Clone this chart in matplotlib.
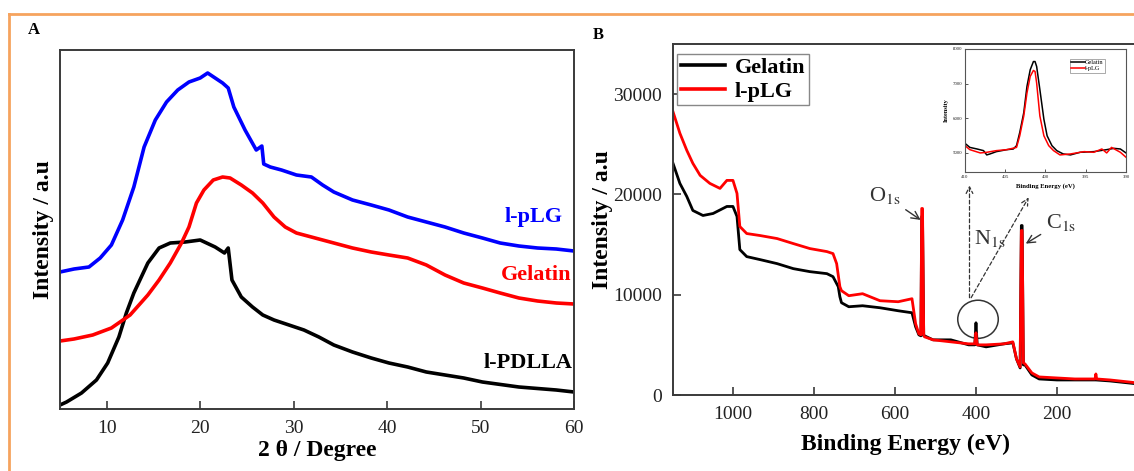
import matplotlib
matplotlib.use('Agg')
import matplotlib.pyplot as plt
from matplotlib.lines import Line2D
from matplotlib.patches import Ellipse

plt.rcParams['font.family'] = ['Liberation Serif', 'DejaVu Serif']
plt.rcParams['mathtext.fontset'] = 'stix'

# ---- Panel A: XRD (2 theta vs intensity, arbitrary units) ----
xrd_pdlla_x = [5, 5.7, 7.3, 8.9, 10.1, 11.3, 12.1, 12.9, 13.7, 14.4, 15.6, 16.8, 18.4, 20, 21.6,
               22.6, 23.0, 23.4, 24.4, 25.6, 26.7, 27.9, 29.5, 31.1, 32.7, 34.3, 36.3, 38.3,
               40.2, 42.2, 44.2, 46.2, 48.2, 50.2, 54.1, 58.1, 60]
xrd_pdlla_y = [3, 6, 15, 28, 45, 71, 95, 115, 131, 145, 160, 165, 166, 168, 161,
               155, 160, 128, 111, 101, 93, 88, 83, 78, 71, 63, 56, 50,
               45, 41, 36, 33, 30, 26, 21, 18, 16]

xrd_gel_x = [5, 6.5, 8.5, 10.5, 12.5, 14.4, 15.6, 16.8, 18, 18.8, 19.6, 20.4, 21.4, 22.4, 23.2,
             24.4, 25.6, 26.7, 27.9, 29.1, 30.3, 32.3, 34.3, 36.3, 38.3, 40.2, 42.2, 44.2,
             46.2, 48.2, 50.2, 52.1, 54.1, 56.1, 58.1, 60]
xrd_gel_y = [67, 69, 73, 80, 93, 113, 128, 145, 165, 181, 205, 218, 228, 231, 230,
             223, 215, 205, 191, 181, 175, 170, 165, 160, 156, 153, 150, 143,
             133, 125, 120, 115, 110, 107, 105, 104]

xrd_plg_x = [5, 6.5, 8.1, 9.3, 10.5, 11.7, 12.9, 14.0, 15.2, 16.4, 17.6, 18.8, 20, 20.8, 22.4,
             23, 23.6, 24.8, 26, 26.6, 26.8, 27.5, 28.7, 30.3, 31.9, 33.1, 34.3, 36.3, 38.3,
             40.2, 42.2, 44.2, 46.2, 48.2, 50.2, 52.1, 54.1, 56.1, 58.1, 60]
xrd_plg_y = [136, 139, 141, 150, 163, 188, 221, 261, 288, 306, 318, 326, 330, 335, 325,
             320, 301, 278, 258, 262, 244, 241, 238, 233, 231, 223, 216, 208, 203,
             198, 191, 186, 181, 175, 170, 165, 162, 160, 159, 157]

# ---- Panel B: XPS survey ----
be_gel = [1148, 1131, 1114, 1099, 1074, 1049, 1015, 1000, 990, 983, 966, 933, 891, 851, 810,
          768, 753, 740, 736, 732, 714, 680, 637, 592, 558, 549, 541, 536, 534, 532, 529,
          527, 506, 462, 418, 403, 400, 397, 375, 331, 309, 300, 291, 288, 286, 283, 279,
          262, 244, 200, 156, 104, 69, 0]
int_gel = [23100, 21100, 19800, 18400, 17900, 18100, 18800, 18800, 17800, 14500, 13800, 13500,
           13100, 12600, 12300, 12100, 11800, 10800, 9800, 9200, 8800, 8900, 8700, 8400, 8200,
           6800, 6000, 5900, 17800, 17800, 5900, 5900, 5500, 5500, 5000, 5000, 7200, 5000,
           4800, 5100, 5200, 3600, 2700, 16900, 16900, 3000, 3000, 2000, 1600, 1500, 1500,
           1500, 1400, 1100]

be_plg = [1148, 1131, 1114, 1099, 1081, 1057, 1032, 1015, 1000, 990, 983, 966, 933, 891, 851,
          810, 768, 753, 744, 736, 732, 714, 680, 637, 592, 558, 549, 541, 536, 534, 532,
          529, 527, 506, 462, 418, 403, 400, 397, 375, 331, 309, 300, 291, 288, 286, 283,
          279, 262, 244, 200, 156, 106, 104, 102, 69, 0]
int_plg = [28250, 26100, 24400, 23100, 21900, 21100, 20600, 21400, 21400, 20100, 16800, 16100,
           15900, 15600, 15100, 14600, 14300, 14100, 13100, 10800, 10400, 9900, 10100, 9400,
           9300, 9600, 7100, 6100, 6000, 18600, 18600, 6000, 5800, 5500, 5300, 5100, 5100,
           6200, 5000, 5000, 5100, 5300, 3600, 2800, 16400, 16400, 3200, 3100, 2200, 1800,
           1700, 1600, 1600, 2100, 1600, 1500, 1200]

# ---- Inset: N1s region ----
n1s_be_gel = [410, 409.4, 408.5, 407.7, 407.3, 406.9, 406.1, 404.8, 404, 403.6, 403.2, 402.7,
              402.3, 401.9, 401.5, 401.3, 401.1, 400.7, 400.2, 399.8, 399.2, 398.6, 397.8,
              396.9, 395.7, 394, 392.4, 391.5, 390.7, 390]
n1s_int_gel = [5276, 5160, 5114, 5067, 4943, 4971, 5038, 5095, 5114, 5210, 5590, 6162,
               6924, 7400, 7638, 7638, 7495, 6829, 5971, 5495, 5210, 5067, 4971,
               4943, 5019, 5038, 5095, 5133, 5114, 5000]
n1s_be_plg = [410, 409.4, 408.1, 407.3, 406.1, 404.8, 403.6, 403.2, 402.7, 402.3, 401.9, 401.5,
              401.3, 401.1, 400.7, 400.2, 399.6, 399, 398.2, 396.9, 395.2, 394, 393, 392.4,
              391.8, 390.7, 390]
n1s_int_plg = [5210, 5095, 5000, 5019, 5067, 5095, 5160, 5495, 6067, 6733, 7210, 7381,
               7352, 7019, 6067, 5495, 5210, 5067, 4943, 4971, 5038, 5019, 5114, 5000,
               5160, 5019, 4876]

fig = plt.figure(figsize=(11.34, 4.71), dpi=100)
W, H = 1134.0, 471.0

spine_c = '#3a3a3a'
txt_c = '#333333'

# ---------------- Panel A ----------------
axA = fig.add_axes([60 / W, 1 - 409 / H, 514 / W, 359 / H])
axA.plot(xrd_pdlla_x, xrd_pdlla_y, color='black', lw=2.6)
axA.plot(xrd_gel_x, xrd_gel_y, color='#ff0000', lw=2.6)
axA.plot(xrd_plg_x, xrd_plg_y, color='#0000ff', lw=2.6)
axA.set_xlim(5, 60)
axA.set_ylim(-1, 358)
axA.set_xticks([10, 20, 30, 40, 50, 60])
axA.set_yticks([])
axA.tick_params(axis='x', direction='in', length=6, width=1.2, labelsize=14, pad=8,
                colors=spine_c, labelcolor='#222222')
for s in axA.spines.values():
    s.set_linewidth(1.4)
    s.set_color(spine_c)
axA.set_xlabel('2 θ / Degree', fontsize=17, fontweight='bold', labelpad=2)
axA.set_ylabel('Intensity / a.u', fontsize=17, fontweight='bold', labelpad=4)
axA.text(58.8, 191, 'l-pLG', color='#0000ff', fontsize=16, fontweight='bold',
         ha='right', va='center')
axA.text(59.7, 133, 'Gelatin', color='#ff0000', fontsize=16, fontweight='bold',
         ha='right', va='center')
axA.text(59.9, 45, 'l-PDLLA', color='black', fontsize=16, fontweight='bold',
         ha='right', va='center')

# ---------------- Panel B ----------------
axB = fig.add_axes([673 / W, 1 - 395 / H, 465 / W, 351 / H])
axB.plot(be_gel, int_gel, color='black', lw=2.0, label='Gelatin')
axB.plot(be_plg, int_plg, color='#ff0000', lw=2.0, label='l-pLG')
axB.set_xlim(1148, 0)
axB.set_ylim(0, 35000)
axB.set_xticks([1000, 800, 600, 400, 200, 0])
axB.set_yticks([0, 10000, 20000, 30000])
axB.tick_params(direction='in', length=6, width=1.2, labelsize=14, pad=8,
                colors=spine_c, labelcolor='#222222')
for s in axB.spines.values():
    s.set_linewidth(1.4)
    s.set_color(spine_c)
axB.set_xlabel('Binding Energy (eV)', fontsize=17, fontweight='bold', labelpad=8)
axB.set_ylabel('Intensity / a.u', fontsize=17, fontweight='bold', labelpad=0)
leg = axB.legend(loc='upper left', bbox_to_anchor=(0.009, 0.972), borderaxespad=0,
                 fancybox=False, edgecolor='#888888', framealpha=1,
                 prop={'weight': 'bold', 'size': 16}, handlelength=2.0,
                 handletextpad=0.45, labelspacing=0.15, borderpad=0.15)
leg.get_frame().set_linewidth(1.0)
for ln in leg.get_lines():
    ln.set_linewidth(2.6)

arrow_kw = dict(arrowstyle='->', color=txt_c, lw=1.0, mutation_scale=14)
axB.annotate('O$_{\\rm 1s}$', xy=(531, 17300), xytext=(625, 19900), fontsize=16,
             color=txt_c, ha='center', va='center', arrowprops=arrow_kw)
axB.annotate('C$_{\\rm 1s}$', xy=(283, 14950), xytext=(190, 17250), fontsize=16,
             color=txt_c, ha='center', va='center', arrowprops=arrow_kw)
axB.text(365, 15650, 'N$_{\\rm 1s}$', fontsize=16, color=txt_c, ha='center', va='center')
axB.add_patch(Ellipse((395, 7550), 100, 3800, fill=False, edgecolor=txt_c, lw=1.1))
dash_kw = dict(arrowstyle='->', color=txt_c, lw=0.9, linestyle=(0, (3, 2)),
               mutation_scale=12, shrinkA=0, shrinkB=0)
axB.annotate('', xy=(416, 20900), xytext=(416, 9700), arrowprops=dash_kw)
axB.annotate('', xy=(270, 19700), xytext=(412, 9700), arrowprops=dash_kw)

# ---------------- Inset ----------------
axI = fig.add_axes([965 / W, 1 - 172 / H, 161 / W, 123 / H])
axI.plot(n1s_be_gel, n1s_int_gel, color='black', lw=1.1, label='Gelatin')
axI.plot(n1s_be_plg, n1s_int_plg, color='#ff0000', lw=1.1, label='l-pLG')
axI.set_xlim(410, 390)
axI.set_ylim(4450, 8000)
axI.set_xticks([410, 405, 400, 395, 390])
axI.set_yticks([5000, 6000, 7000, 8000])
axI.tick_params(direction='in', length=2, width=0.6, labelsize=3.5, pad=2,
                colors=spine_c, labelcolor='#222222')
for s in axI.spines.values():
    s.set_linewidth(0.8)
    s.set_color('#555555')
axI.set_xlabel('Binding Energy (eV)', fontsize=4.8, fontweight='bold', labelpad=3)
axI.set_ylabel('Intensity', fontsize=4.5, fontweight='bold', labelpad=3)
legI = axI.legend(loc='upper right', bbox_to_anchor=(0.87, 0.92), borderaxespad=0,
                  fancybox=False, edgecolor='#888888', framealpha=1,
                  prop={'size': 4.5}, handlelength=2.2, handletextpad=0.1,
                  labelspacing=0.1, borderpad=0.2)
legI.get_frame().set_linewidth(0.5)

# panel letters
fig.text(34 / W, 1 - 30 / H, 'A', fontsize=12, fontweight='bold', ha='center', va='center')
fig.text(598 / W, 1 - 35 / H, 'B', fontsize=12, fontweight='bold', ha='center', va='center')

# orange frame
orange = '#f6a35e'
fig.add_artist(Line2D([9 / W, 1], [1 - 14 / H, 1 - 14 / H], transform=fig.transFigure,
                      color=orange, lw=2))
fig.add_artist(Line2D([9 / W, 9 / W], [0, 1 - 14 / H], transform=fig.transFigure,
                      color=orange, lw=2))

fig.savefig('out.png', dpi=100)
